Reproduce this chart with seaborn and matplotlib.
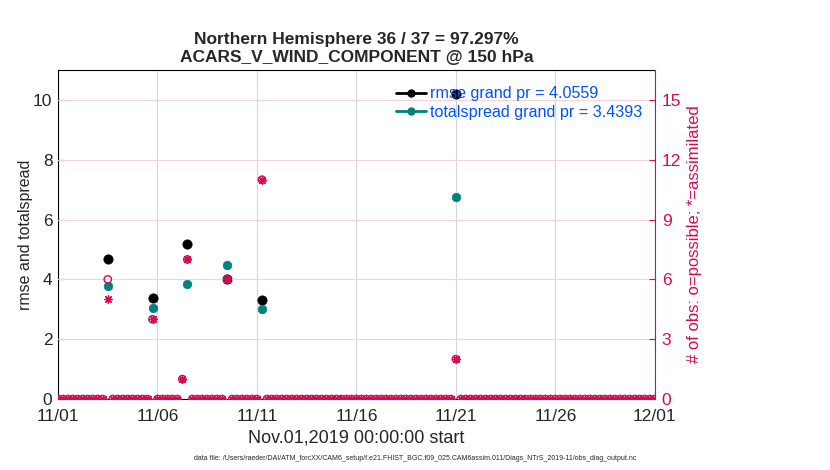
import matplotlib
matplotlib.use("Agg")
import matplotlib.pyplot as plt
import matplotlib.dates as mdates
from matplotlib.lines import Line2D
import seaborn as sns
import pandas as pd
import numpy as np

# 6-hourly bins over the month
bin_start = "2019-11-01 00:00"
bin_end = "2019-12-01 00:00"

obs_times = ["2019-11-03 12:00", "2019-11-05 18:00", "2019-11-07 06:00",
             "2019-11-07 12:00", "2019-11-09 12:00", "2019-11-11 06:00",
             "2019-11-21 00:00"]
rmse = [4.67, 3.37, np.nan, 5.17, 4.0, 3.30, 10.21]
totalspread = [3.79, 3.06, np.nan, 3.86, 4.49, 3.02, 6.77]
n_possible = [6, 4, 1, 7, 6, 11, 2]
n_assimilated = [5, 4, 1, 7, 6, 11, 2]

rmse_label = "rmse grand pr = 4.0559"
spread_label = "totalspread grand pr = 3.4393"
title = "Northern Hemisphere 36 / 37 = 97.297%\nACARS_V_WIND_COMPONENT @ 150 hPa"
xlabel = "Nov.01,2019 00:00:00 start"
datafile = ("data file: /Users/raeder/DAI/ATM_forcXX/CAM6_setup/f.e21.FHIST_BGC.f09_025."
            "CAM6assim.011/Diags_NTrS_2019-11/obs_diag_output.nc")

pink = "#d70a53"
teal = "#008080"
blue = "#0050ff"

bins = pd.date_range(bin_start, bin_end, freq="6h")
pts = pd.DataFrame({"time": pd.to_datetime(obs_times), "rmse": rmse,
                    "spread": totalspread, "possible": n_possible,
                    "assim": n_assimilated})
counts = pd.DataFrame({"time": bins})
counts = counts.merge(pts[["time", "possible", "assim"]], on="time", how="left").fillna(0)

sns.set_style("white")
plt.rcParams["font.family"] = ["Liberation Sans", "DejaVu Sans"]

fig = plt.figure(figsize=(8.3, 4.7), dpi=100)
ax = fig.add_axes([0.0699, 0.151, 0.719, 0.700])
ax2 = ax.twinx()

sns.scatterplot(data=pts, x="time", y="rmse", ax=ax, color="black", s=45,
                edgecolor="black", linewidth=0.5, zorder=3)
sns.scatterplot(data=pts, x="time", y="spread", ax=ax, color=teal, s=38,
                edgecolor=teal, linewidth=0.5, zorder=3)

sns.scatterplot(data=counts, x="time", y="possible", ax=ax2, marker="o",
                facecolor="none", edgecolor=pink, linewidth=1.0, s=28, zorder=4)
sns.scatterplot(data=counts, x="time", y="assim", ax=ax2, marker=(8, 2, 0),
                color=pink, linewidth=0.9, s=30, zorder=4)

ax.set_ylim(0, 11)
ax.set_yticks(np.arange(0, 11, 2))
ax2.set_ylim(0, 16.5)
ax2.set_yticks(np.arange(0, 16, 3))
ax.set_xlim(pd.Timestamp(bin_start), pd.Timestamp(bin_end))
ax.set_xticks(pd.date_range(bin_start, bin_end, freq="5D"))
ax.xaxis.set_major_formatter(mdates.DateFormatter("%m/%d"))

ax.grid(axis="x", color="#d6d6d6", linewidth=0.8)
ax2.grid(axis="y", color="#f2d3df", linewidth=0.8)
ax.set_axisbelow(True)
ax2.set_axisbelow(True)

ax.tick_params(axis="both", direction="in", labelsize=12.5, length=4, color="black")
ax.tick_params(axis="x", pad=7)
ax.tick_params(axis="y", pad=4)
ax2.tick_params(axis="y", direction="in", labelsize=12.5, length=4, pad=5,
                colors=pink, labelcolor=pink)
for side in ["left", "bottom", "top"]:
    ax.spines[side].set_color("black")
    ax.spines[side].set_linewidth(0.8)
ax.spines["right"].set_visible(False)
for side in ["left", "bottom", "top"]:
    ax2.spines[side].set_visible(False)
ax2.spines["right"].set_color(pink)
ax2.spines["right"].set_linewidth(0.8)

ax.set_xlabel(xlabel, fontsize=13, labelpad=4)
ax.set_ylabel("rmse and totalspread", fontsize=11.5, labelpad=0)
ax2.set_ylabel("# of obs: o=possible; *=assimilated", fontsize=12,
               color=pink, labelpad=4)
ax.set_title(title, fontsize=12.5, fontweight="bold", pad=6, linespacing=1.25)

handles = [Line2D([], [], color="black", marker="o", markersize=5, linewidth=2),
           Line2D([], [], color=teal, marker="o", markersize=5, linewidth=2)]
leg = ax2.legend(handles, [rmse_label, spread_label], loc="upper right",
                 frameon=False, fontsize=11.6, handlelength=1.85, handletextpad=0.25,
                 labelspacing=0.2, borderaxespad=0.0,
                 bbox_to_anchor=(0.99, 0.97))
for t in leg.get_texts():
    t.set_color(blue)
leg.set_zorder(10)

fig.text(0.5, 0.022, datafile, fontsize=5, ha="center")

fig.savefig("out.png", dpi=100)
